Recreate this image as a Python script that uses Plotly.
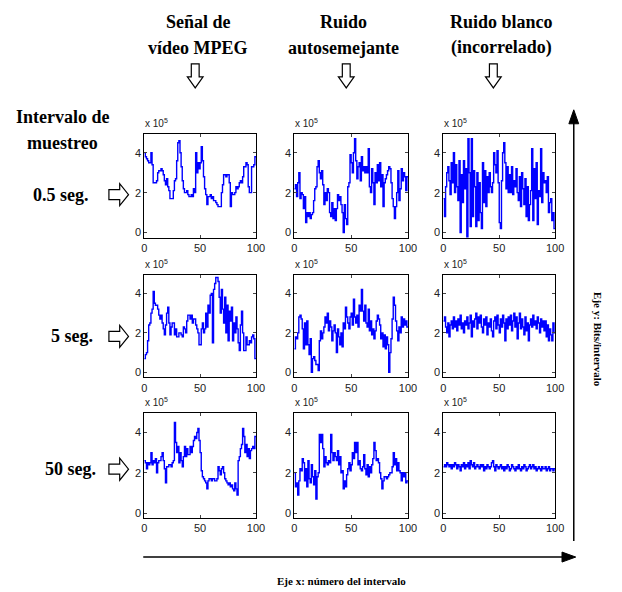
import plotly.graph_objects as go

# ---------------- data (units of 1e5 bits / interval) ----------------
interval_idx = list(range(0, 100))

mpeg_05 = [4.0,3.8,3.7,3.6,3.5,3.5,4.0,3.4,2.5,2.5, 2.5,2.6,3.0,3.1,3.1,3.2,3.1,2.9,2.6,2.4,
           2.7,2.3,2.1,1.7,1.7,1.7,2.1,2.6,2.7,3.6, 4.5,4.6,4.0,3.3,2.6,2.2,2.0,2.0,2.1,1.9,
           1.8,1.8,1.9,1.8,2.2,2.0,4.0,3.0,3.5,3.2, 3.5,4.3,3.6,2.8,2.2,1.9,1.4,1.8,1.8,1.9,
           1.7,1.8,1.6,1.6,1.5,1.4,1.3,1.3,1.3,2.0, 2.4,2.9,2.9,2.8,2.9,2.9,2.5,1.3,2.0,1.9,
           1.9,2.0,2.3,2.2,2.3,2.5,2.6,2.5,2.8,3.3, 3.3,3.5,3.4,2.3,2.0,2.0,3.3,3.3,3.4,3.8]
mpeg_5 = [0.7,0.9,1.0,1.6,2.4,2.5,3.0,3.2,4.1,3.5, 3.4,3.4,3.2,2.9,2.7,2.9,2.5,2.2,1.9,2.4,
          3.0,3.3,2.5,1.9,2.3,2.5,2.5,1.9,2.2,1.8, 1.8,2.0,2.0,1.9,1.8,2.3,2.2,2.0,2.6,2.9,
          2.9,2.7,2.9,2.5,2.7,2.7,2.4,2.2,2.0,1.4, 1.4,2.2,2.5,2.0,2.2,3.0,2.3,3.4,3.0,3.9,
          4.0,1.5,4.2,4.5,4.8,4.8,4.6,3.8,3.0,4.2, 3.2,2.5,3.8,2.0,3.4,1.6,3.1,2.6,3.3,1.6,
          2.5,2.0,2.8,2.2,1.5,1.1,2.4,3.1,2.0,1.1, 1.1,1.8,1.4,1.4,1.6,1.5,1.8,1.9,1.7,0.7]
mpeg_50 = [2.6,2.5,2.2,2.5,2.4,2.5,3.0,2.4,2.6,2.5, 2.7,2.0,2.5,2.6,2.6,2.8,3.0,2.6,2.2,1.5,
           2.3,2.3,2.4,2.4,2.3,2.5,2.6,4.5,3.5,3.0, 3.3,2.5,3.0,2.6,2.3,2.8,3.3,2.8,3.2,2.9,
           2.9,3.3,3.0,3.3,3.6,3.8,3.7,4.0,4.2,3.6, 3.0,2.1,1.8,1.7,1.6,1.5,1.2,1.6,1.7,1.7,
           1.6,1.7,1.7,1.6,1.6,1.7,2.3,2.1,1.9,2.2, 2.3,2.0,1.7,1.6,1.5,1.4,1.5,1.3,1.4,1.2,
           1.1,1.5,1.2,0.9,2.6,2.8,3.2,3.4,4.2,3.8, 3.0,3.4,2.8,3.2,2.7,3.1,3.2,3.3,3.2,3.8]

selfsim_05 = [2.2,2.4,1.8,2.5,3.0,1.7,2.0,1.9,1.2,1.8, 0.5,1.0,0.8,1.0,0.7,0.9,1.0,1.6,2.2,2.3,
              3.3,3.6,3.0,2.7,3.1,2.4,1.4,2.0,1.6,2.2, 2.0,1.0,0.8,1.5,0.7,1.2,0.6,1.2,1.9,1.6,
              1.8,1.4,1.0,0.0,1.4,0.7,0.4,2.3,2.5,3.9, 3.5,3.0,4.0,4.7,3.6,2.7,3.3,3.5,2.6,3.8,
              3.1,3.3,3.0,3.3,3.0,4.2,2.3,2.0,3.2,2.5, 1.4,3.0,2.5,3.4,2.6,3.5,2.3,2.9,1.3,2.5,
              2.7,2.9,3.1,3.3,3.2,2.5,1.7,1.3,0.7,1.3, 2.0,3.1,1.6,2.2,3.2,2.6,3.0,2.8,2.1,2.8]
selfsim_5 = [1.2,1.8,1.7,2.0,2.8,2.9,2.7,2.2,1.2,2.5, 1.4,2.6,1.4,0.9,1.7,0.0,0.7,0.8,0.6,0.4,
             0.4,0.1,1.6,2.1,1.7,2.0,2.3,2.8,2.5,3.0, 2.1,2.6,2.3,1.6,2.1,2.4,2.0,1.0,2.2,1.8,
             1.4,2.0,1.3,2.5,2.2,3.3,2.8,2.5,2.2,2.8, 3.0,2.4,3.7,2.8,2.5,2.9,2.3,3.4,3.1,4.2,
             3.1,2.6,3.4,2.5,2.3,3.2,2.1,2.6,1.9,2.2, 1.7,2.1,2.6,2.9,2.7,2.4,1.7,2.0,1.3,1.9,
             1.2,1.8,1.4,0.0,1.0,1.7,2.7,3.8,3.4,2.6, 2.1,1.6,2.3,2.0,2.8,2.3,2.7,2.4,2.6,2.3]
selfsim_50 = [2.0,1.3,1.5,0.9,1.6,2.2,2.1,2.7,2.5,1.6, 2.2,1.3,2.6,1.7,1.5,2.4,1.8,1.4,2.1,0.7,
              1.8,2.0,3.9,3.5,3.9,3.2,2.3,2.8,2.5,2.4, 2.6,2.5,3.9,3.0,2.6,3.0,2.8,2.6,3.1,2.4,
              2.8,2.0,2.1,1.2,1.6,1.3,1.9,2.2,2.5,2.1, 2.4,3.0,2.7,3.5,3.0,3.5,2.4,2.6,2.2,2.1,
              2.3,2.9,2.2,1.9,2.4,1.8,2.3,2.0,2.4,2.7, 3.5,3.1,2.6,2.7,2.5,2.0,1.7,1.2,1.6,1.8,
              1.8,1.7,1.8,1.9,2.0,2.0,2.3,3.0,2.4,2.7, 2.1,2.5,2.1,2.0,1.6,2.0,1.8,2.0,1.5,1.6]

white_05 = [1.7,0.8,2.3,3.0,3.3,2.6,1.9,3.5,2.5,4.0, 2.0,3.4,2.3,1.6,3.6,0.0,2.9,1.5,3.6,2.2,
            3.2,-0.4,4.7,3.0,0.3,4.7,0.8,3.1,2.3,0.3, 3.0,0.6,2.5,1.0,0.2,3.5,1.5,3.1,1.3,2.8,
            2.0,3.0,2.3,2.0,2.5,4.0,3.4,3.0,4.1,2.5, 0.5,0.2,2.6,4.0,4.5,3.5,2.2,3.3,2.0,2.9,
            2.0,3.3,1.9,2.6,2.3,3.2,2.0,1.6,2.8,1.3, 3.0,2.2,1.4,2.7,0.8,2.3,0.6,1.4,2.1,4.2,
            0.6,3.2,1.7,3.5,0.4,2.1,1.8,4.2,1.5,3.0, 2.5,2.6,2.0,2.8,1.0,1.5,1.7,0.6,1.0,0.2]
white_5 = [2.6,2.8,2.3,2.0,2.5,1.8,2.4,2.6,2.2,2.8, 2.3,2.6,2.1,2.7,2.4,2.9,2.2,2.5,2.0,2.6,
           2.4,2.8,2.2,2.5,2.9,1.8,2.6,2.3,2.7,3.0, 2.2,2.8,2.5,2.9,2.3,2.0,2.7,2.4,2.8,1.9,
           2.5,2.3,2.7,2.1,1.8,2.6,2.8,2.2,2.9,2.4, 2.0,2.7,2.3,2.9,2.5,1.6,2.7,2.2,2.8,2.4,
           2.9,2.1,2.6,3.0,2.3,2.8,1.7,2.5,3.0,2.2, 2.7,2.3,1.9,2.8,2.1,2.5,1.6,2.4,2.7,2.3,
           2.9,2.4,2.6,2.2,2.8,2.5,2.0,2.7,2.3,2.6, 2.1,2.6,1.8,2.4,1.6,2.2,1.9,1.6,2.5,2.0]
white_50 = [2.3,2.4,2.3,2.5,2.4,2.3,2.4,2.2,2.4,2.3, 2.5,2.4,2.2,2.4,2.3,2.1,2.4,2.3,2.5,2.2,
            2.4,2.3,2.5,2.2,2.6,2.4,2.3,2.5,2.2,2.3, 2.4,2.3,2.2,2.4,2.3,2.4,2.1,2.3,2.2,2.4,
            2.3,2.2,2.3,2.5,2.6,2.3,2.1,2.4,2.3,2.2, 2.3,2.4,2.2,2.3,2.1,2.3,2.2,2.4,2.3,2.1,
            2.2,2.4,2.3,2.2,2.1,2.3,2.2,2.4,2.2,2.1, 2.3,2.2,2.4,2.3,2.1,2.2,2.3,2.4,2.2,2.3,
            2.4,2.2,2.3,2.1,2.2,2.3,2.2,2.1,2.3,2.2, 2.2,2.3,2.1,2.2,2.3,2.1,2.2,2.2,2.1,2.2]

column_titles = [["Señal de", "vídeo MPEG"], ["Ruido", "autosemejante"], ["Ruido blanco", "(incorrelado)"]]
row_labels = ["0.5 seg.", "5 seg.", "50 seg."]
x_ticks = [0, 50, 100]
y_ticks = [0, 2, 4]
scale_label = "x 10<sup>5</sup>"

grid = [[mpeg_05, selfsim_05, white_05],
        [mpeg_5, selfsim_5, white_5],
        [mpeg_50, selfsim_50, white_50]]

# ---------------- layout helpers (pixel -> paper) ----------------
W, H = 622, 592
def PX(x): return x / W
def PY(y): return 1 - y / H

cols_px = [(144, 258), (297, 413), (449, 563)]
rows_px = [(134, 238), (275, 378), (414, 519)]

fig = go.Figure()
layout = dict(width=W, height=H, margin=dict(l=0, r=0, t=0, b=0),
              paper_bgcolor="white", plot_bgcolor="white", showlegend=False)

tickfont = dict(family="Liberation Sans, Arial, sans-serif", size=11, color="#222")
annotations = []
shapes = []

for r in range(3):
    for c in range(3):
        n = r * 3 + c + 1
        suf = "" if n == 1 else str(n)
        vals = grid[r][c]
        xs = interval_idx + [100]
        ys = vals + [vals[-1]]
        fig.add_trace(go.Scatter(x=xs, y=ys, mode="lines", line_shape="hv",
                                 line=dict(color="#0000FF", width=1.4),
                                 xaxis="x" + suf, yaxis="y" + suf, hoverinfo="skip"))
        x0, x1 = cols_px[c]
        y0, y1 = rows_px[r]
        layout["xaxis" + suf] = dict(domain=[PX(x0), PX(x1)], range=[0, 100], tickvals=x_ticks,
                                     ticks="inside", ticklen=3, showline=True, linecolor="black",
                                     linewidth=1, mirror="ticks", showgrid=False, zeroline=False,
                                     tickfont=tickfont, anchor="y" + suf)
        layout["yaxis" + suf] = dict(domain=[PY(y1), PY(y0)], range=[-0.25, 4.95], tickvals=y_ticks,
                                     ticks="inside", ticklen=3, showline=True, linecolor="black",
                                     linewidth=1, mirror="ticks", showgrid=False, zeroline=False,
                                     tickfont=tickfont, anchor="x" + suf)
        annotations.append(dict(text=scale_label, xref="paper", yref="paper",
                                x=PX(x0 - 1), y=PY(y0 - 3), xanchor="left", yanchor="bottom",
                                showarrow=False,
                                font=dict(family="Liberation Sans, Arial, sans-serif", size=10, color="#222")))

serif_bold = "Liberation Serif, Times New Roman, serif"
# column titles
col_centers = [199, 347, 508]
for c, lines in enumerate(column_titles):
    for k, txt in enumerate(lines):
        annotations.append(dict(text="<b>%s</b>" % txt, xref="paper", yref="paper",
                                x=PX(col_centers[c]), y=PY(22 + 26 * k), xanchor="center", yanchor="middle",
                                showarrow=False, font=dict(family=serif_bold, size=18, color="black")))

# left labels
for k, txt in enumerate(["Intervalo de", "muestreo"]):
    annotations.append(dict(text="<b>%s</b>" % txt, xref="paper", yref="paper",
                            x=PX(61), y=PY(117 + 26 * k), xanchor="center", yanchor="middle",
                            showarrow=False, font=dict(family=serif_bold, size=18, color="black")))
row_centers = [195, 337, 470]
row_text_x = [59, 70, 69]
for r, txt in enumerate(row_labels):
    annotations.append(dict(text="<b>%s</b>" % txt, xref="paper", yref="paper",
                            x=PX(row_text_x[r]), y=PY(row_centers[r]), xanchor="center", yanchor="middle",
                            showarrow=False, font=dict(family=serif_bold, size=18, color="black")))

# axis captions
annotations.append(dict(text="<b>Eje x: número del intervalo</b>", xref="paper", yref="paper",
                        x=PX(345), y=PY(582), xanchor="center", yanchor="middle", showarrow=False,
                        font=dict(family=serif_bold, size=11, color="black")))
annotations.append(dict(text="<b>Eje y: Bits/intervalo</b>", xref="paper", yref="paper",
                        x=PX(606), y=PY(340), xanchor="center", yanchor="middle", showarrow=False,
                        textangle=90, font=dict(family=serif_bold, size=11, color="black")))

def path(points):
    return "M " + " L ".join("%f,%f" % (PX(x), PY(y)) for x, y in points) + " Z"

# hollow down arrows under column titles
for cx in [196, 350, 500]:
    pts = [(cx - 4, 64), (cx + 4, 64), (cx + 4, 77), (cx + 8, 77), (cx, 88), (cx - 8, 77), (cx - 4, 77)]
    shapes.append(dict(type="path", xref="paper", yref="paper", path=path(pts),
                       line=dict(color="black", width=1.2), fillcolor="white"))
# hollow right arrows near row labels
for cy in row_centers:
    pts = [(108, cy - 5), (119, cy - 5), (119, cy - 11), (128, cy), (119, cy + 11), (119, cy + 5), (108, cy + 5)]
    shapes.append(dict(type="path", xref="paper", yref="paper", path=path(pts),
                       line=dict(color="black", width=1.2), fillcolor="white"))

# big axis arrows
shapes.append(dict(type="line", xref="paper", yref="paper", x0=PX(582), x1=PX(582), y0=PY(542), y1=PY(122),
                   line=dict(color="black", width=1.5)))
shapes.append(dict(type="path", xref="paper", yref="paper",
                   path=path([(577, 124), (587, 124), (582, 110)]),
                   line=dict(color="black", width=1), fillcolor="black"))
shapes.append(dict(type="line", xref="paper", yref="paper", x0=PX(143), x1=PX(572), y0=PY(558), y1=PY(558),
                   line=dict(color="black", width=1.5)))
shapes.append(dict(type="path", xref="paper", yref="paper",
                   path=path([(570, 553), (570, 563), (584, 558)]),
                   line=dict(color="black", width=1), fillcolor="black"))

layout["annotations"] = annotations
layout["shapes"] = shapes
fig.update_layout(**layout)
fig.write_html("out.html", config={"displayModeBar": False},
               post_script="document.body.style.margin='0';document.body.style.padding='0';")
